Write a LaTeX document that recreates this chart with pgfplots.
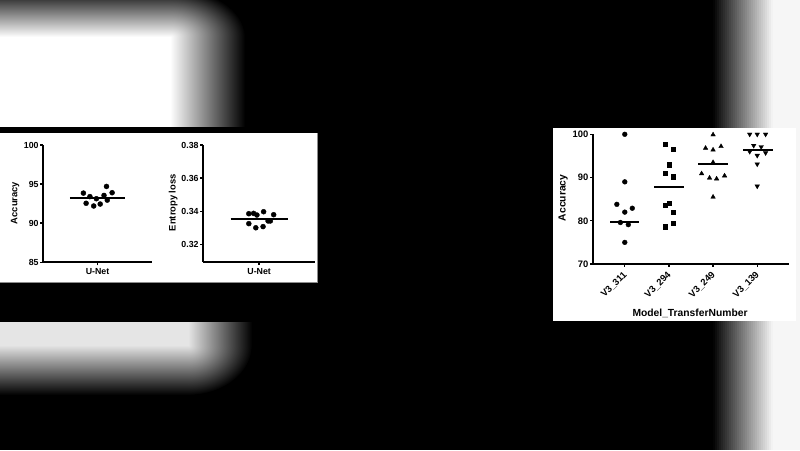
\documentclass[border=0pt]{standalone}
\usepackage{pgfplots}
\pgfplotsset{compat=1.18}
\usepackage{fontspec}
\setmainfont{Liberation Sans}
\newcommand{\tlf}{\fontsize{8.8}{10}\selectfont\bfseries}
\newcommand{\tlr}{\fontsize{9.4}{11}\selectfont\bfseries}
\newcommand{\lbl}{\fontsize{9.4}{11}\selectfont\bfseries}
\newcommand{\lbr}{\fontsize{10.3}{12}\selectfont\bfseries}
\definecolor{blobw}{gray}{0.965}
\pgfplotsset{
  gp/.style={
    scale only axis,
    axis lines=left,
    axis line style={-, line width=1.7pt, black},
    every outer x axis line/.append style={-},
    every outer y axis line/.append style={-},
    tick align=outside,
    major tick length=3pt,
    minor tick num=0,
    tick style={line width=1.4pt, black},
    clip=false,
    scaled y ticks=false,
    /pgf/number format/assume math mode=true,
    yticklabel style={inner sep=1.5pt},
  }
}
\begin{document}
\begin{tikzpicture}
\useasboundingbox (0,0) rectangle (800pt,450pt);
\fill[black] (0,0) rectangle (800pt,450pt);
\begin{scope}[x=1pt, y=-1pt, yshift=450pt]
  % top-left blurred blob
  \fill[white] (0,37) rectangle (170,200);
  \shade[left color=white, right color=black] (170,37) rectangle (245,200);
  \shade[top color=black, bottom color=white] (0,-12) rectangle (170,37);
  \begin{scope}
    \clip (170,0) rectangle (245,37);
    \shade[inner color=white, outer color=black] (170,37) ellipse [x radius=75, y radius=49];
  \end{scope}
  % bottom-left blurred blob
  \fill[white!90!black] (0,300) rectangle (188,345);
  \shade[left color=white!90!black, right color=black] (188,300) rectangle (252,345);
  \shade[top color=white!90!black, bottom color=black] (0,345) rectangle (188,395);
  \begin{scope}
    \clip (188,345) rectangle (252,395);
    \shade[inner color=white!90!black, outer color=black] (188,345) ellipse [x radius=64, y radius=50];
  \end{scope}
  % right blurred blob, drawn as solid strips
  \foreach \i in {0,...,29}{
    \pgfmathsetmacro{\pc}{100*(\i+0.5)/30}
    \pgfmathsetmacro{\xa}{713+2*\i}
    \pgfmathsetmacro{\xb}{715.4+2*\i}
    \fill[blobw!\pc!black] (\xa,0) rectangle (\xb,450);
  }
  \fill[blobw] (773,0) rectangle (800,450);
  % black bands round the left panel
  \fill[black] (0,127) rectangle (330,322);
  % panels
  \fill[white] (0,133) rectangle (317,283);
  \draw[black!45, line width=1pt] (0,283) -- (317,283) -- (317,133);
  \fill[white] (553,128) rectangle (796,321);
\end{scope}

% ---- Panel 1: Accuracy U-Net
\begin{axis}[gp,
  at={(43.3pt,187.7pt)}, anchor=south west,
  width=108.4pt, height=117.3pt,
  xmin=0, xmax=2, ymin=85, ymax=100,
  ytick={85,90,95,100},
  xtick={1}, xticklabels={U-Net},
  ticklabel style={font=\tlf},
  ylabel={Accuracy},
  ylabel style={font=\lbl, at={(axis description cs:-0.261,0.506)}, anchor=center},
]
\addplot[only marks, mark=*, mark size=2.5pt, black] coordinates {
(1.166,94.7) (0.74,93.85) (1.27,93.9) (0.86,93.4) (1.12,93.55)
(0.98,93.13) (0.79,92.55) (1.18,92.95) (1.05,92.45) (0.93,92.2)};
\addplot[black, line width=2pt, mark=none] coordinates {(0.49,93.26) (1.51,93.26)};
\end{axis}

% ---- Panel 2: Entropy loss U-Net
\begin{axis}[gp,
  at={(203.3pt,188.3pt)}, anchor=south west,
  width=111.7pt, height=116.7pt,
  xmin=0, xmax=2, ymin=0.3095, ymax=0.38,
  ytick={0.32,0.34,0.36,0.38},
  yticklabel style={/pgf/number format/.cd, fixed, fixed zerofill, precision=2},
  xtick={1}, xticklabels={U-Net},
  ticklabel style={font=\tlf},
  ylabel={Entropy loss},
  ylabel style={font=\lbl, at={(axis description cs:-0.269,0.506)}, anchor=center},
]
\addplot[only marks, mark=*, mark size=2.5pt, black] coordinates {
(0.815,0.3385) (0.90,0.3387) (0.96,0.3377) (1.08,0.3397) (1.26,0.3379)
(0.815,0.3325) (0.94,0.3300) (1.07,0.3307) (1.16,0.3341) (1.20,0.3341)};
\addplot[black, line width=2pt, mark=none] coordinates {(0.49,0.3355) (1.51,0.3355)};
\end{axis}

% ---- Right panel: Accuracy by Model_TransferNumber
\begin{axis}[gp,
  at={(593pt,186pt)}, anchor=south west,
  width=196pt, height=129.7pt,
  xmin=0.28, xmax=4.72, ymin=70, ymax=100,
  ytick={70,80,90,100},
  xtick={1,2,3,4},
  xticklabels={V3\_311,V3\_294,V3\_249,V3\_139},
  ticklabel style={font=\tlr},
  xticklabel style={xshift=3pt, yshift=-4pt, rotate=45, anchor=east},
  ylabel={Accuracy},
  ylabel style={font=\lbr, at={(axis description cs:-0.152,0.51)}, anchor=center},
  xlabel={Model\_TransferNumber},
  xlabel style={font=\lbr, at={(axis description cs:0.495,-0.38)}, anchor=center},
]
\addplot[only marks, mark=*, mark size=2.4pt, black] coordinates {
(1,100) (1,89.0) (0.82,83.8) (1.17,82.9) (1,82.0) (0.9,79.6) (1.08,79.1) (1,75.0)};
\addplot[black, line width=2pt, mark=none] coordinates {(0.67,79.6) (1.33,79.6)};
\addplot[only marks, mark=square*, mark size=2.2pt, black] coordinates {
(1.91,97.7) (2.09,96.6) (2,93.0) (1.91,91.0) (2.09,90.2)
(1.91,83.65) (2,84.1) (2.09,82.0) (2.09,79.5) (1.91,78.6)};
\addplot[black, line width=2pt, mark=none] coordinates {(1.67,87.7) (2.34,87.7)};
\addplot[only marks, mark=triangle*, mark size=2.6pt, black] coordinates {
(3,99.9) (2.83,96.8) (3,96.4) (3.18,97.2) (3,93.5)
(2.74,90.9) (2.92,89.9) (3.08,89.7) (3.26,90.4) (3,85.5)};
\addplot[black, line width=2pt, mark=none] coordinates {(2.66,93.06) (3.34,93.06)};
\addplot[only marks, mark=triangle*, mark size=2.6pt, mark options={rotate=180}, black] coordinates {
(3.83,100) (4,100) (4.19,100) (3.92,97.4) (4.09,97.1)
(3.83,96.0) (4.19,95.7) (4,95.1) (4,93.1) (4,88.0)};
\addplot[black, line width=2pt, mark=none] coordinates {(3.68,96.3) (4.36,96.3)};
\end{axis}
\end{tikzpicture}
\end{document}
